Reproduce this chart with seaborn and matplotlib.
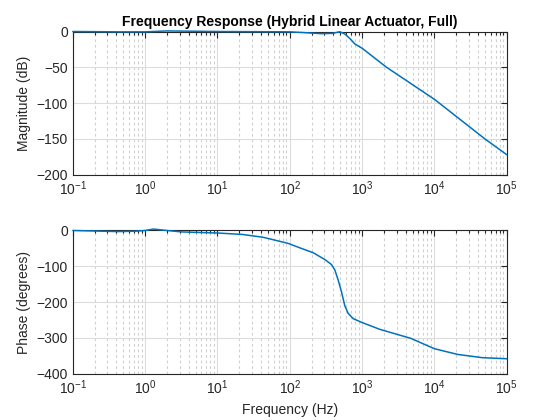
import numpy as np
import pandas as pd
import matplotlib
matplotlib.use("Agg")
import matplotlib.pyplot as plt
import matplotlib.ticker as mticker
import seaborn as sns

# values (Hz, dB, degrees)
mag_freq = [0.1, 0.42, 1.0, 2.0, 10, 100, 155, 270, 390, 491, 577, 680,
            793, 1000, 2180, 10000, 50000, 100000]
mag_db = [0, -0.5, -0.5, 0.8, 0, -0.5, -1.5, -3.0, -2.6, -0.3, -3.5, -10,
          -17.4, -23.4, -50, -94.7, -150, -172]

phase_freq = [0.1, 0.42, 0.73, 1.0, 1.3, 2.0, 3.2, 10, 22, 43, 95, 136,
              210, 305, 377, 419, 466, 518, 576, 640, 751, 1000, 1760,
              4700, 10000, 21000, 46000, 100000]
phase_deg = [0, -3, -2, 0, 4, 0, -4, -7, -11, -19, -36, -48,
             -62, -81, -95, -110, -138, -171, -210, -231, -246, -257, -276,
             -301, -330, -346, -355, -358]

decades = [0.1, 1, 10, 100, 1000, 10000, 100000]

mag = pd.DataFrame({"freq": mag_freq, "mag": mag_db})
phase = pd.DataFrame({"freq": phase_freq, "phase": phase_deg})

sns.set_style("white")
plt.rcParams['font.family'] = ['Liberation Sans', 'DejaVu Sans']
plt.rcParams['mathtext.fontset'] = 'custom'
plt.rcParams['mathtext.rm'] = 'Liberation Sans'
plt.rcParams['mathtext.it'] = 'Liberation Sans'

line_color = '#0072BD'
fig = plt.figure(figsize=(5.6, 4.2), dpi=100)
ax1 = fig.add_axes([0.13, 0.5838, 0.775, 0.3412])
ax2 = fig.add_axes([0.13, 0.11, 0.775, 0.3412])


def style_axis(ax, ylim, yticks):
    ax.set_xscale('log')
    ax.set_xlim(decades[0], decades[-1])
    ax.set_ylim(*ylim)
    ax.set_yticks(yticks)
    ax.set_xticks(decades)
    ax.xaxis.set_major_formatter(mticker.LogFormatterSciNotation())
    minors = [m * d for d in decades[:-1] for m in range(2, 10)]
    ax.set_xticks(minors, minor=True)
    ax.xaxis.set_minor_formatter(mticker.NullFormatter())
    ax.grid(True, which='major', color='#dcdcdc', linewidth=0.8, linestyle='-')
    ax.grid(True, which='minor', axis='x', color='#d0d0d0', linewidth=0.8, linestyle=(0, (2.5, 2.5)))
    ax.tick_params(which='both', direction='in', top=True, right=True,
                   labelsize=10, colors='#262626', length=4, width=0.8)
    ax.tick_params(which='minor', length=2.5)
    for s in ax.spines.values():
        s.set_color('#262626')
        s.set_linewidth(0.8)
    ax.set_axisbelow(True)
    for ln in ax.lines:
        ln.set_clip_on(False)
        ln.set_zorder(5)


sns.lineplot(data=mag, x="freq", y="mag", ax=ax1, color=line_color, linewidth=1.1)
style_axis(ax1, (-200, 0), [-200, -150, -100, -50, 0])
ax1.set_xlabel('')
ax1.set_ylabel('Magnitude (dB)', fontsize=10, color='#262626')
ax1.set_title('Frequency Response (Hybrid Linear Actuator, Full)',
              fontsize=10, fontweight='bold', color='black', pad=4)

sns.lineplot(data=phase, x="freq", y="phase", ax=ax2, color=line_color, linewidth=1.1)
style_axis(ax2, (-400, 0), [-400, -300, -200, -100, 0])
ax2.set_xlabel('Frequency (Hz)', fontsize=10, color='#262626')
ax2.set_ylabel('Phase (degrees)', fontsize=10, color='#262626')

fig.savefig('out.png', dpi=100)
